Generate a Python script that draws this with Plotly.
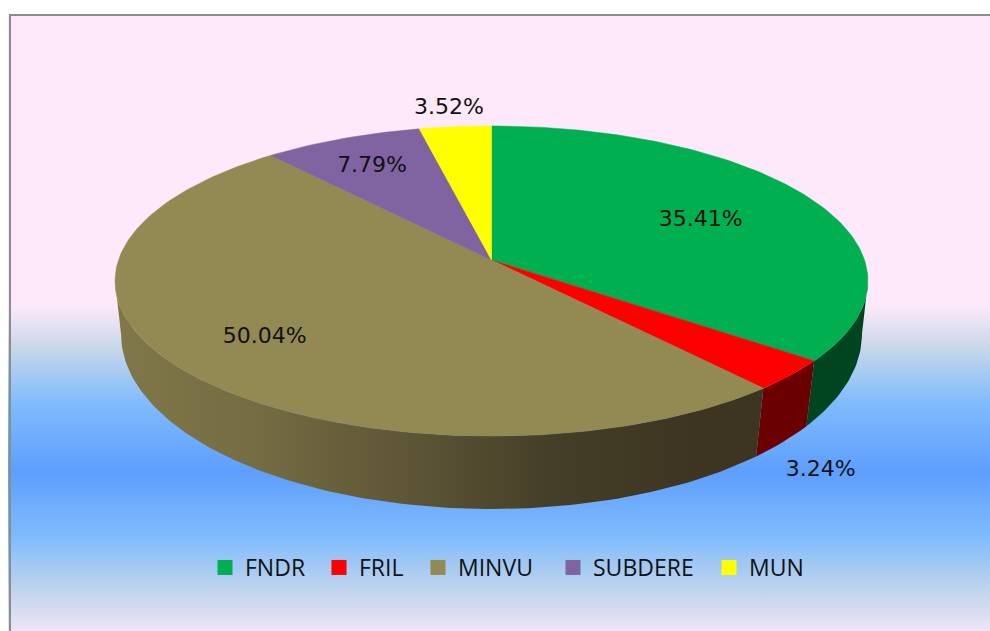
import numpy as np
import plotly.graph_objects as go

# ---- data ----
categories = ["FNDR", "FRIL", "MINVU", "SUBDERE", "MUN"]
shares = [35.41, 3.24, 50.04, 7.79, 3.52]

# ---- styling / layout ----
top_colors = ["#00B050", "#FF0000", "#928953", "#8064A2", "#FFFF00"]
wall_colors = ["#004420", "#6A0000", None, "#4F3D66", "#8A8A00"]
minvu_wall_stops = [(115, "#807849"), (250, "#756D43"), (430, "#5A5234"), (560, "#443D27"),
                    (700, "#3D3521"), (765, "#3D3521")]
bg_stops = [(15, "#FEE9FB"), (305, "#FEE9FB"), (347, "#C8D8EA"), (403, "#80BBFD"),
            (472, "#5E9EFD"), (537, "#80BBFD"), (590, "#C0D4EC"), (631, "#EFE4F6")]
label_radius = [0.65, 1.09, 0.75, 0.78, 1.2]
label_drop = [3, 84, -2, 3, 5]
legend_left = [205, 319, 418, 553, 709]

W, H = 990, 631
CX = 491.5          # pie axis
TOP = dict(a=373.0, b=152.2, v0=260.0, k=0.1355)
BOT = dict(a=367.8, b=172.5, v0=313.0, k=0.12)


def project(theta, r, ring):
    """Clockwise angle from 12 o'clock, radius 0-1 -> plot position with perspective."""
    d = 1 + ring["k"] * r * np.cos(theta)
    return CX + ring["a"] * r * np.sin(theta) / d, ring["v0"] - ring["b"] * r * np.cos(theta) / d


def scale(stops, lo, hi):
    return [[(p - lo) / (hi - lo), c] for p, c in stops]


def front_arc(t1, t2, ring):
    """Part of the arc t1..t2 on the visible front of a ring (between its x-extremes)."""
    right = np.arccos(-ring["k"])
    left = 2 * np.pi - right
    a, b = max(t1, right), min(t2, left)
    if a >= b:
        return None
    return np.linspace(a, b, max(8, int((b - a) * 60)))


fracs = np.array(shares) / sum(shares)
edges = np.concatenate([[0], np.cumsum(fracs)]) * 2 * np.pi

fig = go.Figure()

# background panel with its vertical gradient
fig.add_trace(go.Scatter(
    x=[8, W, W, 8, 8], y=[15, 15, H, H, 15], mode="lines", fill="toself",
    line=dict(width=0), showlegend=False, hoverinfo="skip",
    fillgradient=dict(type="vertical", start=15, stop=631, colorscale=scale(bg_stops, 15, 631)),
))

# side walls (front part only)
for i in range(len(shares)):
    tt = front_arc(edges[i], edges[i + 1], TOP)
    tb = front_arc(edges[i], edges[i + 1], BOT)
    if tt is None or tb is None:
        continue
    xt, yt = project(tt, 1, TOP)
    xb, yb = project(tb[::-1], 1, BOT)
    kw = dict(fillcolor=wall_colors[i])
    if wall_colors[i] is None:
        kw = dict(fillgradient=dict(type="horizontal", start=115, stop=765,
                                    colorscale=scale(minvu_wall_stops, 115, 765)))
    fig.add_trace(go.Scatter(
        x=np.concatenate([xt, xb, xt[:1]]), y=np.concatenate([yt, yb, yt[:1]]),
        mode="lines", fill="toself", line=dict(width=0),
        showlegend=False, hoverinfo="skip", **kw,
    ))

# top faces
for i in range(len(shares)):
    th = np.linspace(edges[i], edges[i + 1], max(8, int(fracs[i] * 360)))
    xt, yt = project(th, 1, TOP)
    ax, ay = project(0.0, 0.0, TOP)
    fig.add_trace(go.Scatter(
        x=np.concatenate([[ax], xt, [ax]]), y=np.concatenate([[ay], yt, [ay]]),
        mode="lines", fill="toself", fillcolor=top_colors[i],
        line=dict(width=0.5, color=top_colors[i]),
        showlegend=False, hoverinfo="skip",
    ))

# percentage labels
mid = (edges[:-1] + edges[1:]) / 2
lx, ly = project(mid, np.array(label_radius), TOP)
fig.add_trace(go.Scatter(
    x=lx, y=ly + np.array(label_drop), mode="text",
    text=[f"{s:.2f}%" for s in shares], textposition="middle center",
    textfont=dict(family="DejaVu Sans", size=22, color="#111111"),
    showlegend=False, hoverinfo="skip",
))

# legend entries: one small legend per entry so that each can sit where the reference has it
legends = {}
for n, (name, col, left) in enumerate(zip(categories, top_colors, legend_left)):
    key = "legend" if n == 0 else f"legend{n + 1}"
    fig.add_trace(go.Scatter(
        x=[None], y=[None], mode="markers", name=name, legend=key,
        marker=dict(symbol="square", size=15, color=col),
    ))
    legends[key] = dict(orientation="h", x=left / W, y=1 - 546 / H, xanchor="left", yanchor="top",
                        bgcolor="rgba(0,0,0,0)", itemsizing="trace",
                        font=dict(family="Open Sans", size=23, color="#111111"))

fig.update_layout(
    width=W, height=H, autosize=False,
    margin=dict(l=0, r=0, t=0, b=0),
    paper_bgcolor="white", plot_bgcolor="rgba(0,0,0,0)",
    xaxis=dict(range=[0, W], visible=False, fixedrange=True),
    yaxis=dict(range=[H, 0], visible=False, fixedrange=True),
    shapes=[
        dict(type="line", xref="x", yref="y", x0=10, x1=10, y0=15, y1=H,
             line=dict(color="#8C8C8C", width=2)),
        dict(type="line", xref="x", yref="y", x0=9, x1=W, y0=15, y1=15,
             line=dict(color="#8C8C8C", width=2)),
    ],
    **legends,
)

fig.write_html("out.html", config=dict(displayModeBar=False),
               post_script="document.body.style.margin='0';document.documentElement.style.overflow='hidden';")
